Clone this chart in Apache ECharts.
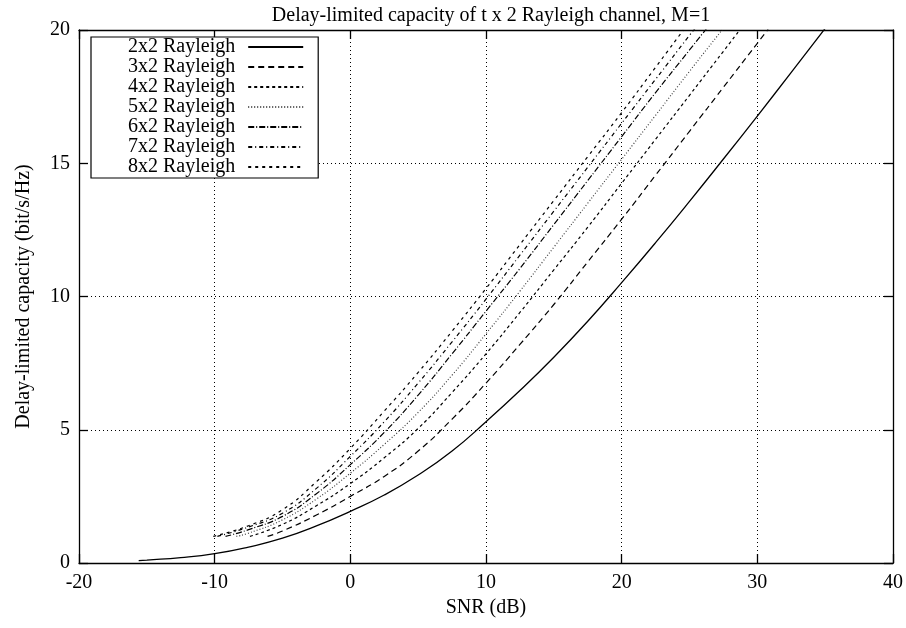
<!DOCTYPE html>
<html>
<head>
<meta charset="utf-8">
<script src="https://cdn.jsdelivr.net/npm/echarts@6/dist/echarts.min.js"></script>
<style>html,body{margin:0;padding:0;background:#fff;}#c{width:906px;height:628px;}</style>
</head>
<body>
<div id="c"></div>
<script>
const seriesNames = ['2x2 Rayleigh','3x2 Rayleigh','4x2 Rayleigh','5x2 Rayleigh','6x2 Rayleigh','7x2 Rayleigh','8x2 Rayleigh'];
const xTicks = [-20,-10,0,10,20,30,40];
const yTicks = [0,5,10,15,20];
// [SNR dB, capacity bit/s/Hz]
const cap2x2 = [[-15.6,0.09],[-15,0.11],[-12.5,0.2],[-10,0.35],[-7.5,0.6],[-5,0.93],[-2.5,1.39],[0,1.94],[2.5,2.55],[5,3.3],[7.5,4.2],[10,5.3],[12.5,6.47],[15,7.72],[17.5,9.07],[20,10.52],[22.5,12.02],[25,13.57],[27.5,15.16],[30,16.77],[32.5,18.41],[35,20.06]];
const cap3x2 = [[-6.1,1.0],[-5,1.2],[-2.5,1.8],[0,2.5],[2.5,3.25],[5,4.2],[7.5,5.4],[10,6.75],[12.5,8.2],[15,9.7],[17.5,11.3],[20,12.9],[22.5,14.55],[25,16.2],[27.5,17.85],[30,19.5],[30.8,20.03]];
const cap4x2 = [[-7.4,1.0],[-5,1.45],[-2.5,2.15],[0,2.98],[2.5,3.95],[5,5.05],[7.5,6.4],[10,7.85],[12.5,9.4],[15,11.0],[17.5,12.6],[20,14.25],[22.5,15.9],[25,17.55],[27.5,19.2],[28.7,20.0]];
const cap5x2 = [[-8.4,1.0],[-7.5,1.12],[-5,1.62],[-2.5,2.4],[0,3.37],[2.5,4.45],[5,5.65],[7.5,7.05],[10,8.6],[12.5,10.2],[15,11.85],[17.5,13.5],[20,15.15],[22.5,16.8],[25,18.45],[27.4,20.0]];
const cap6x2 = [[-9.2,1.0],[-7.5,1.25],[-5,1.75],[-2.5,2.6],[0,3.69],[2.5,4.9],[5,6.3],[7.5,7.85],[10,9.45],[12.5,11.05],[15,12.7],[17.5,14.35],[20,16.0],[22.5,17.65],[25,19.25],[26.25,20.05]];
const cap7x2 = [[-9.8,1.0],[-7.5,1.35],[-5,1.87],[-2.5,2.8],[0,4.0],[2.5,5.3],[5,6.75],[7.5,8.3],[10,9.9],[12.5,11.55],[15,13.2],[17.5,14.85],[20,16.5],[22.5,18.15],[25,19.8],[25.4,20.05]];
const cap8x2 = [[-10.1,1.0],[-7.5,1.4],[-5,2.0],[-2.5,3.05],[0,4.3],[2.5,5.7],[5,7.15],[7.5,8.7],[10,10.3],[12.5,11.95],[15,13.6],[17.5,15.25],[20,16.9],[22.5,18.6],[24.55,20.0]];
const allData = [cap2x2,cap3x2,cap4x2,cap5x2,cap6x2,cap7x2,cap8x2];

const FONT = "'Liberation Serif','Times New Roman',serif";
const dashes = ['solid',[6,4],[3,3],[1,2],[6,2,1,2],[4,3,1,3],[3,4]];
const colors = ['#000','#000','#000','#444','#000','#000','#000'];

const chart = echarts.init(document.getElementById('c'), null, {renderer:'canvas'});
const series = allData.map((d,i)=>({
  name: seriesNames[i], type:'line', data:d, showSymbol:false, symbol:'none', smooth:true,
  lineStyle:{color:colors[i], width: i===0?1.3:1.2, type:dashes[i]}, itemStyle:{color:colors[i]},
  z: 3
}));
const axisCommon = {
  axisLine:{show:true, onZero:false, lineStyle:{color:'#000', width:1.3}},
  axisTick:{show:true, inside:true, length:9, lineStyle:{color:'#000', width:1.3}}
};
chart.setOption({
  animation:false,
  backgroundColor:'#fff',
  title:{text:'Delay-limited capacity of t x 2 Rayleigh channel, M=1', left:486, textAlign:'center', top:1,
    textStyle:{fontFamily:FONT, fontSize:20, fontWeight:'normal', color:'#000'}},
  grid:{left:79, right:13, top:30, bottom:65},
  legend:{
    orient:'vertical', left:91, top:37, align:'right',
    backgroundColor:'#fff', borderColor:'#000', borderWidth:1.2,
    padding:[0,14,1,37], itemGap:0, itemWidth:55, itemHeight:20,
    itemStyle:{opacity:0},
    textStyle:{fontFamily:FONT, fontSize:20, color:'#000', lineHeight:20, padding:[0,8,0,0]},
    data: seriesNames.map(n=>({name:n}))
  },
  xAxis:[
    Object.assign({type:'value', min:-20, max:40, interval:10, position:'bottom',
      name:'SNR (dB)', nameLocation:'middle', nameGap:35,
      nameTextStyle:{fontFamily:FONT, fontSize:20, color:'#000'},
      axisLabel:{fontFamily:FONT, fontSize:20, color:'#000', margin:10,
        formatter:v=>xTicks.includes(v)?String(v):''},
      splitLine:{show:true, lineStyle:{color:'#000', type:[1,3], width:1}}}, axisCommon),
    Object.assign({type:'value', min:-20, max:40, interval:10, position:'top',
      axisLabel:{show:false}, splitLine:{show:false}}, axisCommon)
  ],
  yAxis:[
    Object.assign({type:'value', min:0, max:20, interval:5, position:'left',
      name:'Delay-limited capacity (bit/s/Hz)', nameLocation:'middle', nameGap:45,
      nameTextStyle:{fontFamily:FONT, fontSize:20, color:'#000'},
      axisLabel:{fontFamily:FONT, fontSize:20, color:'#000', margin:9,
        formatter:v=>yTicks.includes(v)?String(v):''},
      splitLine:{show:true, lineStyle:{color:'#000', type:[1,3], width:1}}}, axisCommon),
    Object.assign({type:'value', min:0, max:20, interval:5, position:'right',
      axisLabel:{show:false}, splitLine:{show:false}}, axisCommon)
  ],
  series: series
});
</script>
</body>
</html>
